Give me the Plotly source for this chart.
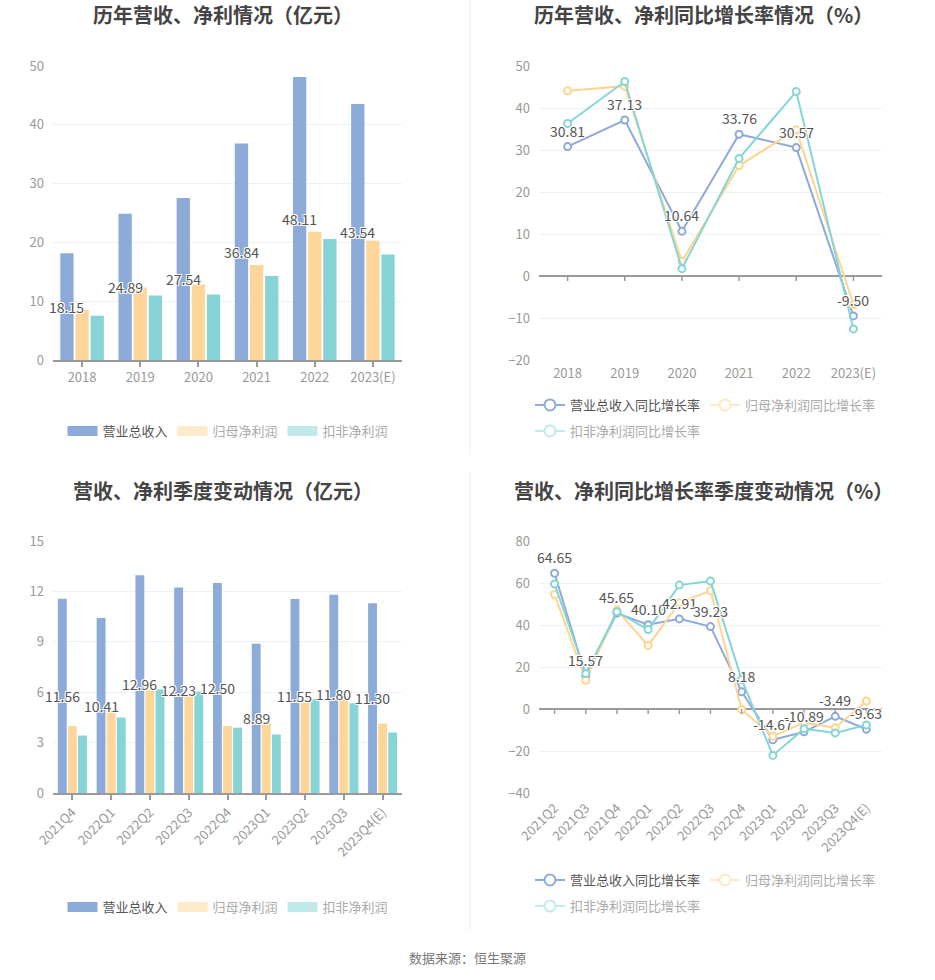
import plotly.graph_objects as go

# 年度数据（亿元）
years = ["2018", "2019", "2020", "2021", "2022", "2023(E)"]
rev_year = [18.15, 24.89, 27.54, 36.84, 48.11, 43.54]
np_year = [8.5, 12.35, 12.86, 16.14, 21.8, 20.27]
dnp_year = [7.53, 10.99, 11.16, 14.27, 20.56, 17.95]

# 年度同比增长率（%）
rev_yoy_year = [30.81, 37.13, 10.64, 33.76, 30.57, -9.50]
np_yoy_year = [44.1, 45.2, 3.5, 26.3, 34.8, -6.8]
dnp_yoy_year = [36.3, 46.3, 1.75, 28.0, 43.9, -12.6]

# 季度数据（亿元）
quarters = ["2021Q4", "2022Q1", "2022Q2", "2022Q3", "2022Q4",
            "2023Q1", "2023Q2", "2023Q3", "2023Q4(E)"]
rev_q = [11.56, 10.41, 12.96, 12.23, 12.50, 8.89, 11.55, 11.80, 11.30]
np_q = [3.99, 4.89, 6.22, 5.82, 3.99, 4.19, 5.52, 5.60, 4.13]
dnp_q = [3.42, 4.49, 6.16, 6.04, 3.89, 3.48, 5.58, 5.34, 3.60]

# 季度同比增长率（%）
yoy_quarters = ["2021Q2", "2021Q3", "2021Q4", "2022Q1", "2022Q2", "2022Q3",
                "2022Q4", "2023Q1", "2023Q2", "2023Q3", "2023Q4(E)"]
rev_yoy_q = [64.65, 15.57, 45.65, 40.10, 42.91, 39.23, 8.18, -14.67, -10.89, -3.49, -9.63]
np_yoy_q = [54.5, 13.7, 47.1, 30.2, 50.6, 56.3, -0.3, -13.0, -6.5, -8.9, 3.8]
dnp_yoy_q = [59.5, 16.9, 46.3, 37.8, 59.0, 60.9, 14.1, -22.1, -9.4, -11.4, -7.6]

bar_names = ["营业总收入", "归母净利润", "扣非净利润"]
line_names = ["营业总收入同比增长率", "归母净利润同比增长率", "扣非净利润同比增长率"]

W, H = 935, 980
FONT = "Noto Sans CJK SC"
BAR_COLORS = ["#8cabd9", "#ffd699", "#86d4d6"]
LINE_COLORS = ["#8eaadb", "#ffd48f", "#84d6d6"]
GRID = "#eef1f8"
TICK = "#9a9a9a"
LABEL_SHADOW = "1px 1px 0 #fff, -1px -1px 0 #fff, 1px -1px 0 #fff, -1px 1px 0 #fff"
BARGAP = 0.22


def px_x(px):
    return px / W


def px_y(py):
    return 1 - py / H


dom_left = [px_x(53), px_x(402)]
dom_right = [px_x(539), px_x(882)]
dom_top = [px_y(360), px_y(66)]
dom_bottom = [px_y(793), px_y(541)]

fig = go.Figure()
annotations = []
shapes = []


def legend_name(text, first):
    if first:
        return text
    return "<span style='color:#aaaaaa'>%s</span>" % text


def add_bar_panel(xa, ya, legend, cats, series, dom_x):
    for i, (name, vals) in enumerate(zip(bar_names, series)):
        fig.add_trace(go.Bar(
            x=cats, y=vals, name=name, xaxis=xa, yaxis=ya,
            marker=dict(color=BAR_COLORS[i], line=dict(width=0)),
            showlegend=False, hoverinfo="skip"
        ))
        # legend entry drawn as a wide swatch
        fig.add_trace(go.Scatter(
            x=[None], y=[None], mode="lines", name=legend_name(name, i == 0),
            xaxis=xa, yaxis=ya, legend=legend,
            line=dict(color=BAR_COLORS[i], width=14),
            opacity=1.0 if i == 0 else 0.5
        ))
    # value labels for revenue bars, centred at half height
    cat_px = (dom_x[1] - dom_x[0]) * W / len(cats)
    slot = cat_px * (1 - BARGAP) / 3
    for idx, v in enumerate(series[0]):
        annotations.append(dict(
            x=idx, y=v / 2, xref=xa, yref=ya, text="%.2f" % v, showarrow=False,
            xshift=-slot, font=dict(size=14, color="#555555", family=FONT, shadow=LABEL_SHADOW)
        ))


def add_line_panel(xa, ya, legends, cats, series):
    for i, (name, vals) in enumerate(zip(line_names, series)):
        fig.add_trace(go.Scatter(
            x=cats, y=vals, name=name, xaxis=xa, yaxis=ya, mode="lines+markers",
            line=dict(color=LINE_COLORS[i], width=2),
            marker=dict(symbol="circle", size=7, color="white",
                        line=dict(color=LINE_COLORS[i], width=2)),
            showlegend=False, hoverinfo="skip"
        ))
        fig.add_trace(go.Scatter(
            x=[None], y=[None], mode="lines+markers", name=legend_name(name, i == 0),
            xaxis=xa, yaxis=ya, legend=legends[i],
            line=dict(color=LINE_COLORS[i], width=2),
            marker=dict(symbol="circle", size=11, color="white",
                        line=dict(color=LINE_COLORS[i], width=2)),
            opacity=1.0 if i == 0 else 0.5
        ))
    for idx, v in enumerate(series[0]):
        annotations.append(dict(
            x=idx, y=v, xref=xa, yref=ya, text="%.2f" % v, showarrow=False, yshift=16,
            font=dict(size=14, color="#555555", family=FONT, shadow=LABEL_SHADOW)
        ))
        # small tick marks below the zero axis line
        shapes.append(dict(
            type="line", xref=xa, yref=ya, x0=idx, x1=idx, ysizemode="pixel", yanchor=0,
            y0=0, y1=-5, line=dict(color=TICK, width=1.5)
        ))


add_bar_panel("x", "y", "legend", years, [rev_year, np_year, dnp_year], dom_left)
add_line_panel("x2", "y2", ["legend2", "legend2", "legend5"], years,
               [rev_yoy_year, np_yoy_year, dnp_yoy_year])
add_bar_panel("x3", "y3", "legend3", quarters, [rev_q, np_q, dnp_q], dom_left)
add_line_panel("x4", "y4", ["legend4", "legend4", "legend6"], yoy_quarters,
               [rev_yoy_q, np_yoy_q, dnp_yoy_q])

tickfont = dict(size=13, color="#999999", family=FONT)


def bar_xaxis(dom, anchor, n, angle=0):
    return dict(domain=dom, anchor=anchor, type="category", range=[-0.5, n - 0.5],
                showline=True, linecolor=TICK, linewidth=1.5, ticks="outside", ticklen=5,
                tickcolor=TICK, tickwidth=1.5, showgrid=False, tickfont=tickfont,
                tickangle=angle, fixedrange=True)


def line_xaxis(dom, anchor, n, angle=0):
    return dict(domain=dom, anchor=anchor, type="category", range=[-0.5, n - 0.5],
                showline=False, ticks="", showgrid=False, tickfont=tickfont,
                tickangle=angle, fixedrange=True, ticklabelstandoff=4)


def yaxis(dom, anchor, rng, dtick, zero):
    return dict(domain=dom, anchor=anchor, range=rng, dtick=dtick, showgrid=True,
                gridcolor=GRID, gridwidth=1, zeroline=zero, zerolinecolor=TICK,
                zerolinewidth=1.5, showline=False, tickfont=tickfont, ticks="",
                ticklabelstandoff=8, fixedrange=True)


titles = [
    ("历年营收、净利情况（亿元）", 223, 15),
    ("历年营收、净利同比增长率情况（%）", 703, 15),
    ("营收、净利季度变动情况（亿元）", 223, 490),
    ("营收、净利同比增长率季度变动情况（%）", 703, 490),
]
for text, px, py in titles:
    annotations.append(dict(
        x=px_x(px), y=px_y(py), xref="paper", yref="paper", text="<b>%s</b>" % text,
        showarrow=False, xanchor="center", yanchor="middle",
        font=dict(size=20, color="#444444", family=FONT)
    ))

annotations.append(dict(
    x=px_x(467), y=px_y(957), xref="paper", yref="paper", text="数据来源：恒生聚源",
    showarrow=False, xanchor="center", yanchor="middle",
    font=dict(size=13, color="#777777", family=FONT)
))

# faint panel separators
for y0, y1 in [(0, 455), (472, 930)]:
    shapes.append(dict(type="line", xref="paper", yref="paper", x0=px_x(470), x1=px_x(470),
                       y0=px_y(y0), y1=px_y(y1), line=dict(color="#eeeeee", width=1)))

legend_font = dict(size=13, color="#555555", family=FONT)


def legend_box(x, y, xanchor="left"):
    return dict(orientation="h", x=x, y=y, xanchor=xanchor, yanchor="middle",
                font=legend_font, bgcolor="rgba(0,0,0,0)", itemwidth=30,
                itemclick=False, itemdoubleclick=False)


fig.update_layout(
    width=W, height=H,
    margin=dict(l=0, r=0, t=0, b=0, autoexpand=False),
    paper_bgcolor="white", plot_bgcolor="white",
    font=dict(family=FONT),
    barmode="group", bargap=BARGAP, bargroupgap=0.12,
    xaxis=bar_xaxis(dom_left, "y", len(years)),
    yaxis=yaxis(dom_top, "x", [0, 50], 10, False),
    xaxis2=line_xaxis(dom_right, "y2", len(years)),
    yaxis2=yaxis(dom_top, "x2", [-20, 50], 10, True),
    xaxis3=bar_xaxis(dom_left, "y3", len(quarters), -45),
    yaxis3=yaxis(dom_bottom, "x3", [0, 15], 3, False),
    xaxis4=line_xaxis(dom_right, "y4", len(yoy_quarters), -45),
    yaxis4=yaxis(dom_bottom, "x4", [-40, 80], 20, True),
    legend=legend_box(px_x(228), px_y(431), "center"),
    legend2=legend_box(px_x(530), px_y(405)),
    legend5=legend_box(px_x(530), px_y(431)),
    legend3=legend_box(px_x(228), px_y(907), "center"),
    legend4=legend_box(px_x(530), px_y(880)),
    legend6=legend_box(px_x(530), px_y(906)),
    annotations=annotations,
    shapes=shapes,
    showlegend=True,
)

# drop the default 8px body margin so the figure fills the window exactly
fig.write_html("out.html", config={"displayModeBar": False},
               post_script="document.body.style.margin = '0';")
